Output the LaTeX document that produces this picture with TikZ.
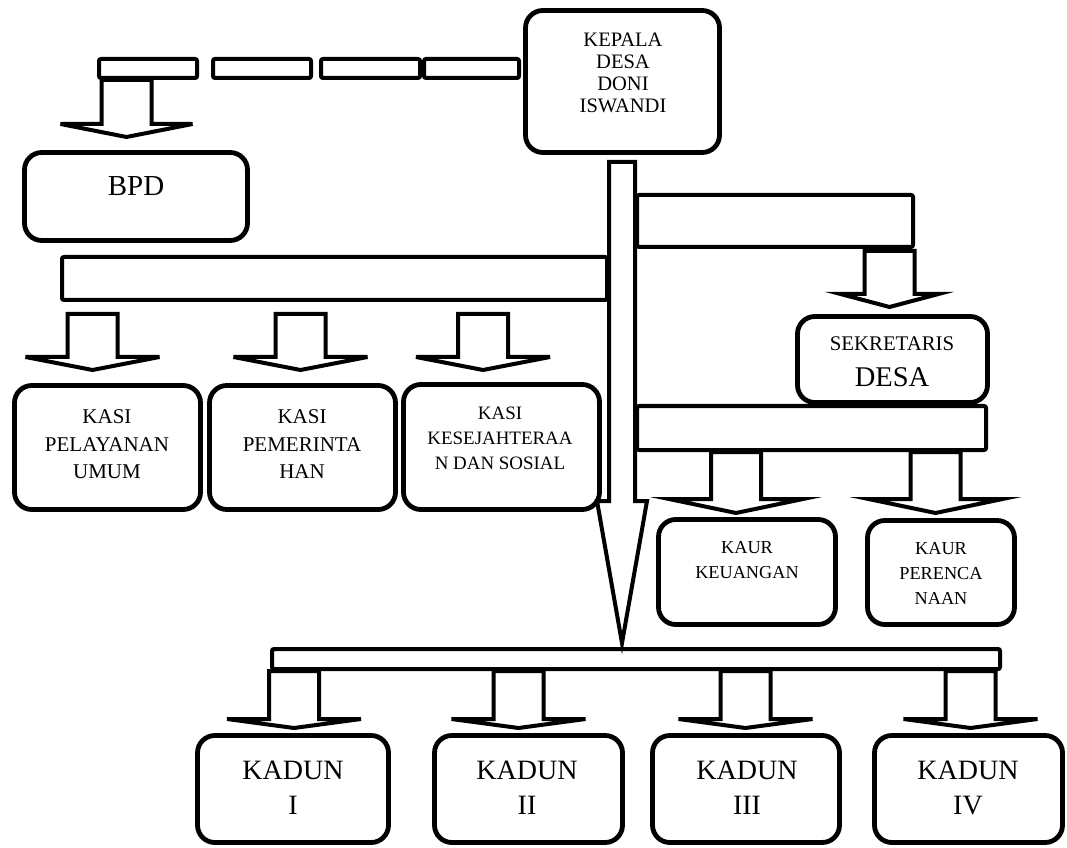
\documentclass[tikz,border=0pt]{standalone}
\usepackage{fontspec}
\setmainfont{Liberation Serif}

% block arrow: x, top, head, tip, shaft half width, head half width
\newcommand{\blockarrow}[6]{%
  \draw[arrowline] (#1-#5,-#2) -- (#1-#5,-#3) -- (#1-#6,-#3) -- (#1,-#4)
    -- (#1+#6,-#3) -- (#1+#5,-#3) -- (#1+#5,-#2) -- cycle;}

\begin{document}
\begin{tikzpicture}[x=0.75pt,y=0.75pt,
  orgbox/.style 2 args={draw, line width=3.6pt, rounded corners=13pt, fill=white,
    inner sep=0pt, minimum width=#1*0.75pt, minimum height=#2*0.75pt},
  barbox/.style 2 args={draw, line width=3pt, rounded corners=1.5pt, fill=white,
    inner sep=0pt, minimum width=#1*0.75pt, minimum height=#2*0.75pt},
  arrowline/.style={line width=3pt, line join=miter, fill=white},
  kepalatext/.style={align=center, font=\fontsize{15.4}{16.5}\selectfont},
  kasitext/.style={align=center, font=\fontsize{15.75}{20.6}\selectfont},
  kasictext/.style={align=center, font=\fontsize{14.2}{18.75}\selectfont},
  kaurtext/.style={align=center, font=\fontsize{13.7}{18.75}\selectfont},
  bigtext/.style={align=center, font=\fontsize{21}{26.25}\selectfont}]
\useasboundingbox (0,0) rectangle (1067,-848);

% bars
\node[barbox={98}{19}] (segA) at (148,-68.5) {};
\node[barbox={98}{19}] (segB) at (262,-68.5) {};
\node[barbox={99}{19}] (segC) at (370.5,-68.5) {};
\node[barbox={95}{19}] (segD) at (471.5,-68.5) {};
\node[barbox={276}{52}] (sekbar) at (775,-221) {};
\node[barbox={545}{43}] (kasibar) at (334.5,-278.5) {};
\node[barbox={349}{44}] (kaurbar) at (811.5,-428) {};
\node[barbox={728}{20}] (kadunbar) at (636,-659) {};

% boxes
\node[orgbox={194}{142}] (kepala) at (622.5,-81.5) {};
\node[kepalatext] (kepalalabel) at (623,-72.5) {KEPALA\\DESA\\DONI\\ISWANDI};
\node[orgbox={223}{88}] (bpd) at (136,-196.5) {};
\node[font=\fontsize{21.75}{26}\selectfont] (bpdlabel) at (136,-186) {BPD};
\node[orgbox={186}{124}] (kasiA) at (107.5,-447.5) {};
\node[kasitext] (kasiAlabel) at (107,-444.5) {KASI\\PELAYANAN\\UMUM};
\node[orgbox={186}{124}] (kasiB) at (302.5,-447.5) {};
\node[kasitext] (kasiBlabel) at (302,-444.5) {KASI\\PEMERINTA\\HAN};
\node[orgbox={196}{125}] (kasiC) at (501.5,-447) {};
\node[kasictext] (kasiClabel) at (500,-438) {KASI\\KESEJAHTERAA\\N DAN SOSIAL};
\node[orgbox={190}{86}] (sek) at (892.5,-359.5) {};
\node[font=\fontsize{15.6}{18}\selectfont] (seklabelA) at (892,-344) {SEKRETARIS};
\node[font=\fontsize{21.4}{26}\selectfont] (seklabelB) at (892,-377) {DESA};
\node[orgbox={177}{105}] (kaurA) at (747,-572) {};
\node[kaurtext] (kaurAlabel) at (747,-560.5) {KAUR\\KEUANGAN};
\node[orgbox={147}{104}] (kaurB) at (941,-572.5) {};
\node[kaurtext] (kaurBlabel) at (941,-573.5) {KAUR\\PERENCA\\NAAN};
\node[orgbox={191}{107}] (kadunA) at (293,-789) {};
\node[bigtext] (kadunAlabel) at (293,-787.5) {KADUN\\I};
\node[orgbox={188}{107}] (kadunB) at (528.5,-789) {};
\node[bigtext] (kadunBlabel) at (527,-787.5) {KADUN\\II};
\node[orgbox={187}{107}] (kadunC) at (746,-789) {};
\node[bigtext] (kadunClabel) at (747,-787.5) {KADUN\\III};
\node[orgbox={188}{107}] (kadunD) at (968.5,-789) {};
\node[bigtext] (kadunDlabel) at (968,-787.5) {KADUN\\IV};

% arrows
\blockarrow{126.5}{80}{124}{137}{25}{66}
\blockarrow{92.5}{314}{357}{370}{25}{67}
\blockarrow{300.5}{314}{357}{370}{25}{67}
\blockarrow{483}{314}{357}{370}{25}{67}
\blockarrow{889.5}{251}{294}{307}{25}{49}
\blockarrow{736}{452}{499}{513}{25}{67}
\blockarrow{935.5}{452}{499}{513}{25}{67}
\blockarrow{294}{671}{719}{728}{25}{67}
\blockarrow{518.5}{671}{719}{728}{25}{67}
\blockarrow{745.5}{671}{719}{728}{25}{67}
\blockarrow{970.5}{671}{719}{728}{25}{67}
\blockarrow{622}{162}{501}{643}{13}{25}
\end{tikzpicture}
\end{document}
